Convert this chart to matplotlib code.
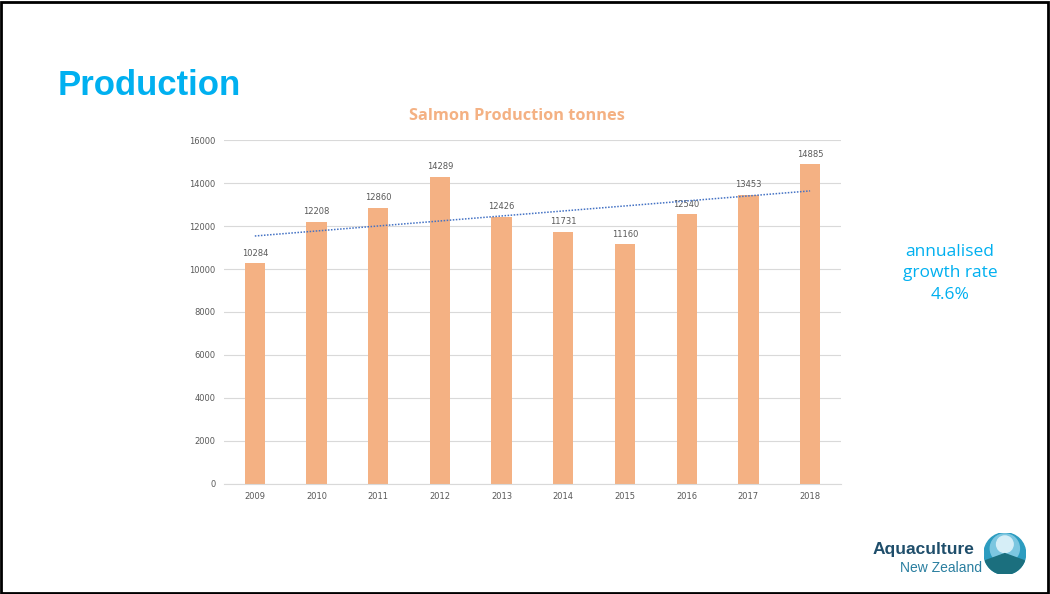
import matplotlib.pyplot as plt
import numpy as np
from matplotlib.patches import Rectangle, Circle, Wedge

years = ["2009", "2010", "2011", "2012", "2013", "2014", "2015", "2016", "2017", "2018"]
tonnes = [10284, 12208, 12860, 14289, 12426, 11731, 11160, 12540, 13453, 14885]
yticks = [0, 2000, 4000, 6000, 8000, 10000, 12000, 14000, 16000]

bar_col = "#F4B183"
blue = "#00B0F0"
grey = "#595959"

fig = plt.figure(figsize=(10.5, 5.94), dpi=100)
fig.patch.set_facecolor("white")

# slide border
fig.add_artist(Rectangle((0.001, 0.002), 0.997, 0.995, transform=fig.transFigure,
                         fill=False, edgecolor="black", linewidth=2))

fig.text(0.055, 0.856, "Production", color=blue, fontsize=25, fontweight="bold",
         family="Liberation Sans", va="center", ha="left")

ax = fig.add_axes([0.2133, 0.1852, 0.5876, 0.5791])
x = np.arange(len(years))
ax.bar(x, tonnes, width=0.33, color=bar_col, zorder=2)
for xi, v in zip(x, tonnes):
    ax.text(xi, v + 250, str(v), ha="center", va="bottom", fontsize=6, color=grey)

# linear trendline
k, b = np.polyfit(x, tonnes, 1)
ax.plot([x[0], x[-1]], [k * x[0] + b, k * x[-1] + b], color="#4472C4",
        linestyle=(0, (1, 1)), linewidth=1.1, zorder=3)

ax.set_xlim(-0.5, len(years) - 0.5)
ax.set_ylim(0, 16000)
ax.set_yticks(yticks)
ax.set_yticklabels([str(t) for t in yticks])
ax.set_xticks(x)
ax.set_xticklabels(years)
ax.tick_params(length=0, labelsize=6, labelcolor=grey, pad=6)
ax.grid(axis="y", color="#D9D9D9", linewidth=0.8, zorder=0)
for s in ["top", "right", "left"]:
    ax.spines[s].set_visible(False)
ax.spines["bottom"].set_color("#D9D9D9")
ax.spines["bottom"].set_linewidth(0.8)

fig.text(0.4925, 0.805, "Salmon Production tonnes", color=bar_col, fontsize=11.8,
         fontweight="bold", family="Open Sans", ha="center", va="center")

fig.text(0.905, 0.54, "annualised\ngrowth rate\n4.6%", color=blue, fontsize=12.5,
         ha="center", va="center", linespacing=1.45, family="Open Sans")

# logo
fig.text(0.831, 0.075, "Aquaculture", color="#1F4E6B", fontsize=12.5, fontweight="bold",
         family="Liberation Sans", ha="left", va="center")
fig.text(0.935, 0.043, "New Zealand", color="#2A7FA0", fontsize=10,
         family="Liberation Sans", ha="right", va="center")
lax = fig.add_axes([0.937, 0.033, 0.04, 0.07])
lax.set_xlim(-1, 1)
lax.set_ylim(-1, 1)
lax.set_aspect("equal")
lax.axis("off")
lax.add_patch(Circle((0, 0), 1, color="#2C9CC0"))
lax.add_patch(Circle((0, 0.25), 0.7, color="#7CC6E0"))
lax.add_patch(Circle((0, 0.45), 0.4, color="#D6EEF7"))
lax.add_patch(Wedge((0, 0), 1, 200, 340, color="#1B6F7E"))

fig.savefig("out.png", dpi=100, facecolor="white")
